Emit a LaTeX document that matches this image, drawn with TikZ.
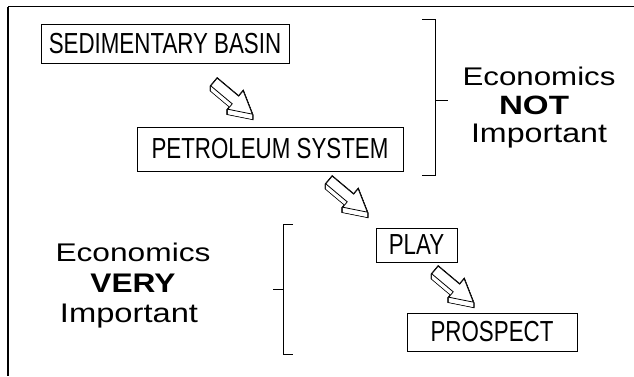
\documentclass[tikz,border=0pt]{standalone}
\usepackage{fontspec}
\setmainfont{Liberation Sans}
\usepackage{graphicx}

\newcommand{\narrow}[1]{\scalebox{0.77}[1]{#1}}
\newcommand{\fitw}[2]{\resizebox{#1pt}{18.5pt}{#2}}

\tikzset{
  stage/.style={draw, line width=1pt, inner sep=0pt, font=\fontsize{29}{29}\selectfont},
  econ/.style={anchor=base, inner sep=0pt, font=\fontsize{25}{25}\selectfont},
  arrowshape/.style={insert path={(0,-5) -- (28,-5) -- (28,-12) -- (50,0) -- (28,12) -- (28,5) -- (0,5) -- cycle}}
}

% hollow 3D arrow, tail at #1
\newcommand{\blockarrow}[1]{%
  \foreach \d in {0,0.5,...,5}
    \path[draw, line width=1.6pt, shift={(#1)}, yshift=-\d pt, rotate=-40, arrowshape];
  \foreach \d in {0,0.5,...,5}
    \path[fill=white, shift={(#1)}, yshift=-\d pt, rotate=-40, arrowshape];
  \path[draw, fill=white, line width=0.8pt, shift={(#1)}, rotate=-40, arrowshape];
}

\begin{document}
\begin{tikzpicture}[x=1pt,y=-1pt]
\useasboundingbox (0,0) rectangle (634,376);

% frame
\draw[line width=1.6pt] (8,6.5) -- (634,6.5);
\draw[line width=1.1pt] (8,6.5) -- (8,376);

% stages
\node[stage, minimum width=248, minimum height=39] (basin) at (165,43.5) {\narrow{SEDIMENTARY BASIN}};
\node[stage, minimum width=266, minimum height=44] (system) at (270,149) {\narrow{PETROLEUM SYSTEM}};
\node[stage, minimum width=81, minimum height=34] (play) at (416.5,245) {\narrow{PLAY}};
\node[stage, minimum width=170, minimum height=38] (prospect) at (492,332) {\narrow{PROSPECT}};

% arrows
\coordinate (a1) at (214,82);
\coordinate (a2) at (329,180);
\coordinate (a3) at (435,270);
\blockarrow{a1}
\blockarrow{a2}
\blockarrow{a3}

% brackets
\draw[line width=0.9pt] (422,19) -- (435,19) -- (435,175) -- (422,175);
\draw[line width=0.9pt] (435,100) -- (448,100);
\draw[line width=0.9pt] (293,224) -- (283,224) -- (283,354) -- (293,354);
\draw[line width=0.9pt] (273,289) -- (283,289);

% economics
\node[econ] (econA) at (539,85) {\fitw{153}{Economics}};
\node[econ] (notA) at (534,114) {\fitw{70}{\bfseries NOT}};
\node[econ] (impA) at (539,142) {\fitw{136}{Important}};
\node[econ] (econB) at (133,261) {\fitw{155}{Economics}};
\node[econ] (veryB) at (133,292) {\fitw{85}{\bfseries VERY}};
\node[econ] (impB) at (129,322) {\fitw{138}{Important}};
\end{tikzpicture}
\end{document}
